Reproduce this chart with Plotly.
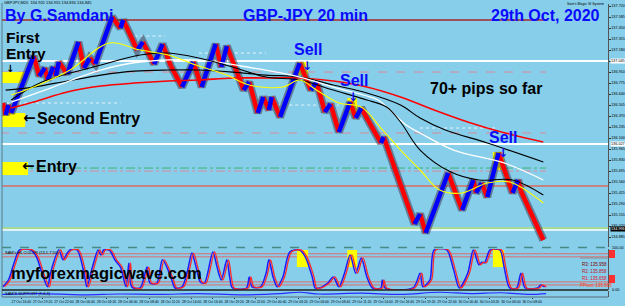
import plotly.graph_objects as go

# ---------------- data ----------------
# renko-style price path turning points (bar index, price)
price_bar = [1, 2, 3, 4, 12, 14, 16, 17, 19, 20, 21, 24, 28, 30, 32, 34, 40, 43, 44, 49, 51, 55, 58, 61,
             65, 69, 72, 77, 79, 81, 87, 89, 92, 94, 96, 97, 100, 107, 111, 113, 116, 118, 121, 125, 127,
             129, 136, 137, 148, 150, 152, 160, 165, 169, 170, 172, 174, 178, 181, 183, 185, 186, 194]
price_val = [136.530, 136.383, 136.505, 136.407, 137.106, 136.861, 136.959, 136.812, 136.972, 136.861,
             137.033, 136.886, 137.278, 136.959, 137.082, 137.008, 137.585, 137.450, 137.548, 137.180,
             137.278, 137.008, 137.254, 136.984, 136.726, 137.033, 136.726, 137.254, 136.972, 137.229,
             136.689, 136.787, 136.407, 136.603, 136.444, 136.603, 136.358, 137.021, 136.689, 136.787,
             136.419, 136.518, 136.174, 136.542, 136.346, 136.468, 136.039, 136.113, 135.045, 135.168,
             134.935, 135.671, 135.217, 135.585, 135.426, 135.548, 135.376, 135.916, 135.622, 135.426,
             135.585, 135.450, 134.849]

# moving averages
ma_red_bar = [4, 12, 24, 36, 48, 60, 71, 83, 95, 107, 119, 131, 143, 155, 167, 179, 194]
ma_red_val = [136.468, 136.542, 136.665, 136.738, 136.775, 136.800, 136.812, 136.837, 136.837, 136.837,
              136.800, 136.726, 136.603, 136.444, 136.297, 136.174, 136.051]
ma_black1_bar = [2, 12, 24, 36, 48, 60, 71, 83, 95, 107, 119, 131, 143, 150, 159, 174, 194]
ma_black1_val = [136.689, 136.726, 136.800, 136.873, 136.922, 136.935, 136.935, 136.910, 136.873, 136.849,
                 136.751, 136.653, 136.505, 136.346, 136.199, 136.039, 135.806]
ma_black2_bar = [4, 15, 36, 50, 60, 71, 83, 95, 107, 119, 131, 138, 143, 150, 161, 171, 183, 194]
ma_black2_val = [136.567, 136.787, 136.996, 137.119, 137.143, 137.082, 136.972, 136.849, 136.812, 136.689,
                 136.567, 136.481, 136.297, 135.953, 135.683, 135.585, 135.585, 135.401]
ma_white_bar = [4, 18, 36, 50, 71, 86, 107, 119, 131, 135, 145, 150, 162, 180, 194]
ma_white_val = [136.542, 136.714, 136.935, 137.033, 137.057, 136.984, 136.849, 136.726, 136.616, 136.567,
                136.260, 136.162, 135.953, 135.794, 135.585]
ma_yellow_bar = [4, 12, 25, 39, 50, 60, 71, 81, 89, 101, 107, 113, 121, 129, 136, 143, 150, 157, 165, 174,
                 182, 194]
ma_yellow_val = [136.628, 136.726, 136.935, 137.266, 137.180, 137.119, 136.984, 136.873, 136.751, 136.726,
                 136.812, 136.689, 136.530, 136.481, 136.223, 135.953, 135.708, 135.462, 135.426, 135.548,
                 135.560, 135.303]

# horizontal levels
level_price = [137.548, 137.045, 136.910, 136.162, 136.027, 135.732, 135.695, 135.511, 134.996, 134.972]
level_end = [195, 217.5, 195, 195, 217.5, 195, 195, 217.5, 217.5, 217.5]
dotted_price = [137.352, 136.530, 136.505, 137.143, 136.223]
dotted_from = [48, 0, 99, 71, 150]
dotted_to = [59, 43, 121, 95, 178]

# oscillator (two nearly identical lines)
osc_bar = [1, 3, 5, 7, 11, 13, 15, 17, 18, 21, 22.5, 24, 25, 27.5, 30, 31, 33, 35, 36, 37, 39, 41, 43, 45,
           46, 47, 50, 52.5, 53.5, 56, 58, 61, 62.5, 65, 67, 68.5, 70, 71.5, 73, 76, 77.5, 79, 81, 82, 83,
           88, 89, 90, 93, 95, 96, 97.5, 99, 101, 103.5, 107, 109, 111.5, 112.5, 114, 117, 119, 121, 123,
           125, 127, 129, 131, 133, 136, 136.5, 137.5, 147.5, 150, 151, 153.5, 155, 159.5, 162, 164, 167,
           169, 171, 172, 173, 175, 178.5, 180, 182, 184.5, 186, 187.5, 192, 193, 194.5]
osc_val = [3, 21, 66, 100, 100, 82, 39, 3, 39, 100, 74, 92, 100, 100, 39, 3, 55, 100, 87, 100, 100, 74, 55,
           3, 66, 3, 0, 55, 13, 13, 74, 29, 0, 3, 47, 92, 55, 16, 13, 95, 55, 21, 74, 29, 0,
           0, 29, 3, 3, 39, 74, 29, 3, 29, 95, 100, 82, 29, 0, 0, 13, 29, 3, 39,
           87, 39, 79, 29, 0, 0, 21, 0, 0, 39, 3, 21, 100, 100, 47, 0, 39,
           100, 61, 68, 66, 100, 100, 55, 0, 0, 39, 0, 0, 8, 3]
osc_levels = [90, 82, 16, 8]

# second indicator
ind2_bar = [0, 14, 29, 43, 57, 71, 86, 100, 107, 114, 129, 143, 157, 168, 179, 189, 195]
ind2_val = [4.3, 5.7, 3.6, 5.0, 4.3, 5.7, 3.6, 5.7, 7.9, 5.0, 6.4, 4.3, 7.9, 5.7, 7.1, 4.3, 5.7]

# signal boxes (bar from, bar to, price low, price high)
sell_box = [(106, 110, 136.873, 137.033), (124, 127.5, 136.407, 136.591), (176, 180, 135.708, 135.929)]
entry_box = [(0, 9, 136.775, 136.910), (0, 9, 136.235, 136.407), (0, 10, 135.646, 135.806)]

price_ticks = ["137.720", "137.585", "137.450", "137.315", "137.180", "137.045", "136.910", "136.775",
               "136.640", "136.505", "136.370", "136.235", "136.100", "135.965", "135.830", "135.695",
               "135.560", "135.425", "135.290", "135.155", "135.020", "134.885"]
date_ticks = ["27 Oct 2020", "27 Oct 16:40", "27 Oct 19:20", "27 Oct 22:00", "28 Oct 00:40", "28 Oct 03:20",
              "28 Oct 06:00", "28 Oct 08:40", "28 Oct 11:20", "28 Oct 14:00", "28 Oct 16:40", "28 Oct 19:20",
              "28 Oct 22:00", "29 Oct 00:40", "29 Oct 03:20", "29 Oct 06:00", "29 Oct 08:40", "29 Oct 11:20",
              "29 Oct 14:00", "29 Oct 16:40", "29 Oct 19:20", "29 Oct 22:00", "30 Oct 00:40", "30 Oct 03:20",
              "30 Oct 06:00", "30 Oct 08:40"]

# ---------------- figure ----------------
W, H = 625, 306
BG = "#87ceeb"


def px(x):
    return x / W


def py(y):
    return 1 - y / H


fig = go.Figure()

# price shadow
fig.add_trace(go.Scatter(x=price_bar, y=price_val, mode="lines", xaxis="x", yaxis="y",
                         line=dict(color="rgba(70,60,80,0.55)", width=8), hoverinfo="skip"))
up_x, up_y, dn_x, dn_y = [], [], [], []
for i in range(len(price_bar) - 1):
    seg_x = [price_bar[i], price_bar[i + 1], None]
    seg_y = [price_val[i], price_val[i + 1], None]
    if price_val[i + 1] >= price_val[i]:
        up_x += seg_x
        up_y += seg_y
    else:
        dn_x += seg_x
        dn_y += seg_y
fig.add_trace(go.Scatter(x=dn_x, y=dn_y, mode="lines", line=dict(color="#ff0000", width=4.5),
                         xaxis="x", yaxis="y"))
fig.add_trace(go.Scatter(x=up_x, y=up_y, mode="lines", line=dict(color="#0000ff", width=4.5),
                         xaxis="x", yaxis="y"))

# moving averages
for bx, vy, col, w in [(ma_red_bar, ma_red_val, "#ff0000", 1.6),
                       (ma_black1_bar, ma_black1_val, "#000000", 1.2),
                       (ma_white_bar, ma_white_val, "#ffffff", 1.3),
                       (ma_black2_bar, ma_black2_val, "#000000", 1.1),
                       (ma_yellow_bar, ma_yellow_val, "#ffff00", 1.1)]:
    fig.add_trace(go.Scatter(x=bx, y=vy, mode="lines", line=dict(color=col, width=w, shape="spline",
                                                                  smoothing=1.0),
                             xaxis="x", yaxis="y"))

# oscillator
fig.add_trace(go.Scatter(x=osc_bar, y=osc_val, mode="lines",
                         line=dict(color="#1a1aff", width=1.5, shape="spline", smoothing=0.8),
                         xaxis="x", yaxis="y2"))
fig.add_trace(go.Scatter(x=[b + 0.6 for b in osc_bar], y=osc_val, mode="lines",
                         line=dict(color="#ff2a2a", width=1.3, shape="spline", smoothing=0.8),
                         xaxis="x", yaxis="y2"))
fig.add_trace(go.Scatter(x=ind2_bar, y=ind2_val, mode="lines",
                         line=dict(color="#2a2aff", width=1.2, shape="spline"),
                         xaxis="x", yaxis="y3"))

shapes = []
level_style = [("#a52a2a", 1.5, "solid"), ("#ffffff", 2, "solid"), ("#d98a9a", 1, "dash"),
               ("#d98a9a", 1, "dash"), ("#ffffff", 2, "solid"), ("#3cb371", 1, "dashdot"),
               ("#d98a9a", 1, "dashdot"), ("#c48484", 2, "solid"), ("#a8dc96", 2, "solid"),
               ("#ffffff", 1.5, "solid")]
for p, e, (c, w, d) in zip(level_price, level_end, level_style):
    shapes.append(dict(type="line", xref="x", yref="y", x0=0, x1=e, y0=p, y1=p,
                       line=dict(color=c, width=w, dash=d), layer="below"))
for p, a, b in zip(dotted_price, dotted_from, dotted_to):
    shapes.append(dict(type="line", xref="x", yref="y", x0=a, x1=b, y0=p, y1=p,
                       line=dict(color="rgba(255,255,255,0.8)", width=1, dash="dot"), layer="below"))
for a, b, lo, hi in sell_box + entry_box:
    shapes.append(dict(type="rect", xref="x", yref="y", x0=a, x1=b, y0=lo, y1=hi,
                       fillcolor="#ffff00", line=dict(width=0), layer="below"))
for a, b, lo, hi in sell_box:
    shapes.append(dict(type="rect", xref="x", yref="y2", x0=a, x1=b, y0=55, y1=100,
                       fillcolor="#ffff00", line=dict(width=0), layer="below"))
for lv in osc_levels:
    shapes.append(dict(type="line", xref="paper", yref="y2", x0=px(2), x1=px(608), y0=lv, y1=lv,
                       line=dict(color="#e06a6a", width=1), layer="below"))
# panel frames
shapes += [
    dict(type="line", xref="paper", yref="paper", x0=px(2), x1=px(2), y0=py(297), y1=py(3),
         line=dict(color="#5a7a88", width=1)),
    dict(type="line", xref="paper", yref="paper", x0=px(2), x1=px(608), y0=py(247.5), y1=py(247.5),
         line=dict(color="#4a8a84", width=1.5, dash="dash")),
    dict(type="line", xref="paper", yref="paper", x0=px(2), x1=px(608), y0=py(290), y1=py(290),
         line=dict(color="#202020", width=1.5)),
    dict(type="line", xref="paper", yref="paper", x0=px(2), x1=px(608), y0=py(297), y1=py(297),
         line=dict(color="#5a6a78", width=1)),
    dict(type="rect", xref="paper", yref="paper", x0=px(609), x1=px(615), y0=py(258), y1=py(250),
         fillcolor="#ff3030", line=dict(width=0)),
    dict(type="rect", xref="paper", yref="paper", x0=px(609), x1=px(615), y0=py(283), y1=py(275),
         fillcolor="#ff3030", line=dict(width=0)),
    dict(type="line", xref="paper", yref="paper", x0=px(580), x1=px(608), y0=py(258), y1=py(258),
         line=dict(color="#8a8a8a", width=1)),
]

F = "Liberation Sans, Arial, DejaVu Sans"
FA = "DejaVu Sans"
annotations = []


def ann(text, x, y, size, color, xanchor="left", bg=None, font=F):
    a = dict(text=text, x=px(x), y=py(y), xref="paper", yref="paper", xanchor=xanchor,
             yanchor="middle", showarrow=False, font=dict(family=font, size=size, color=color))
    if bg:
        a["bgcolor"] = bg
        a["borderpad"] = 0
    annotations.append(a)


ann("<b>By G.Samdani</b>", 3, 15, 16, "#0a0aff")
ann("<b>GBP-JPY 20 min</b>", 305, 15, 16, "#0a0aff", "center")
ann("<b>29th Oct, 2020</b>", 545, 15, 16, "#0a0aff", "center")
ann("<b>First</b>", 4, 37, 15.5, "#000000")
ann("<b>Entry</b>", 4, 53, 15.5, "#000000")
ann("<b>↓</b>", 10, 68, 10, "#000000", "center", font=FA)
ann("<b>←</b>", 21, 118, 15, "#000000", font=FA)
ann("<b>Second Entry</b>", 35, 119, 16, "#000000")
ann("<b>←</b>", 20, 166, 15, "#000000", font=FA)
ann("<b>Entry</b>", 34, 167, 16, "#000000")
ann("<b>Sell</b>", 308, 50, 16, "#0a0aff", "center")
ann("<b>↓</b>", 307, 66, 12, "#0a0aff", "center", font=FA)
ann("<b>Sell</b>", 354, 81, 16, "#0a0aff", "center")
ann("<b>↓</b>", 353, 97, 12, "#0a0aff", "center", font=FA)
ann("<b>Sell</b>", 503, 138, 16, "#0a0aff", "center")
ann("<b>↓</b>", 503, 153, 12, "#0a0aff", "center", font=FA)
ann("<b>70+ pips so far</b>", 428, 88, 16, "#000000")
ann("<b>myforexmagicwave.com</b>", 9, 273, 16.5, "#000000")
ann("GBPJPY,M20  134.920 134.955 134.830 134.845", 2, 3, 4, "#000000")
ann("Sam's Magic SI System", 606, 4, 3.5, "#000000", "right")
ann("SAM's HL COLOR (13,1,7,50)", 3, 252, 4, "#000000")
ann("SAM'S SUPPORT (9,6,3)", 3, 293, 4, "#000000")
ann("R3: 135.958", 580, 264, 4.5, "#800000")
ann("R2: 135.858", 580, 271, 4.5, "#c0102a")
ann("R1: 135.658", 580, 278, 4.5, "#e0102a")
ann("PPivot: 135.558", 578, 285, 4.5, "#ff4010")
ann("137.045", 610, 61, 3.8, "#000000", bg="#ffffff")
ann("136.027", 610, 144, 3.8, "#000000", bg="#ffffff")
ann("134.996", 610, 229, 3.8, "#ffffff", bg="#000000")
ann("100.00", 610, 248, 3.8, "#000000")
ann("0.00", 610, 290, 3.8, "#000000")

fig.update_layout(
    width=W, height=H, margin=dict(l=0, r=0, t=0, b=0),
    paper_bgcolor=BG, plot_bgcolor=BG, showlegend=False,
    shapes=shapes, annotations=annotations,
    xaxis=dict(domain=[px(2), px(608)], range=[0.7, 217.1], anchor="y3", showgrid=False,
               zeroline=False, tickmode="array", tickvals=[i * 7.6 for i in range(len(date_ticks))],
               ticktext=date_ticks, tickfont=dict(size=3.4, color="#000000", family=F),
               tickangle=0, ticks="outside", ticklen=1, tickcolor="#333", automargin=False),
    yaxis=dict(domain=[py(247), py(4)], range=[134.763, 137.745], side="right", anchor="x",
               showgrid=False, zeroline=False, tickmode="array",
               tickvals=[float(t) for t in price_ticks], ticktext=price_ticks,
               tickfont=dict(size=3.8, color="#000000", family=F), ticks="outside", ticklen=1.5,
               tickcolor="#333", showline=True, linecolor="#555555", linewidth=1, automargin=False),
    yaxis2=dict(domain=[py(290), py(249)], range=[-5.3, 102.6], side="right", anchor="x",
                showgrid=False, zeroline=False, showticklabels=False, showline=True,
                linecolor="#555555", linewidth=1, automargin=False),
    yaxis3=dict(domain=[py(297), py(291)], range=[0, 10], side="right", anchor="x",
                showgrid=False, zeroline=False, showticklabels=False, showline=True,
                linecolor="#555555", linewidth=1, automargin=False),
)

fig.write_html("out.html")
